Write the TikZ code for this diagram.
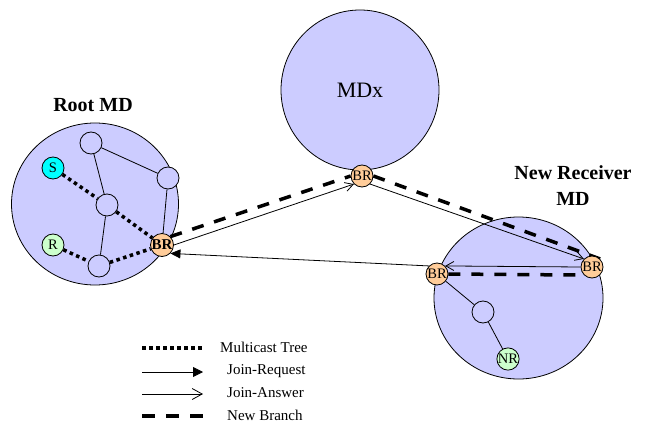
\documentclass[tikz,border=0pt]{standalone}
\usepackage{fontspec}
\setmainfont{Liberation Serif}
\usetikzlibrary{arrows.meta,shapes.geometric}
\pgfdeclarelayer{back}
\pgfdeclarelayer{mid}
\pgfsetlayers{back,mid,main}
\definecolor{mdfill}{RGB}{204,204,255}
\definecolor{sfill}{RGB}{0,255,255}
\definecolor{rfill}{RGB}{204,255,204}
\definecolor{brfill}{RGB}{255,204,153}
\tikzset{
  md/.style={ellipse, draw, fill=mdfill, line width=0.8pt, inner sep=0pt},
  sm/.style={circle, draw, fill=mdfill, minimum size=22pt, inner sep=0pt, line width=0.8pt, font=\fontsize{14.5}{15}\selectfont},
  brnode/.style={sm, fill=brfill, font=\fontsize{14.5}{15}\selectfont},
  link/.style={line width=0.8pt},
  tree/.style={line width=3.5pt, dash pattern=on 3.5pt off 3.5pt},
  req/.style={line width=0.8pt, -{Triangle[length=10pt,width=9pt]}},
  ans/.style={line width=0.8pt, -{Straight Barb[length=8pt,width=9pt]}},
  branch/.style={line width=3.5pt, dash pattern=on 12pt off 11pt},
  title/.style={font=\fontsize{20}{26}\selectfont\bfseries, inner sep=0pt},
  legtext/.style={font=\fontsize{15}{16}\selectfont, anchor=west, inner sep=0pt}
}
\begin{document}
\begin{tikzpicture}[x=1pt,y=-1pt]
\useasboundingbox (0,0) rectangle (645,425);
\begin{pgfonlayer}{back}
  \node[md, minimum width=167pt, minimum height=162pt] (root) at (95,204) {};
  \node[md, minimum width=158pt, minimum height=160pt, font=\fontsize{22}{24}\selectfont] (mdx) at (360,90) {MDx};
  \node[md, minimum width=169pt, minimum height=162pt] (nrmd) at (518.5,298) {};
\end{pgfonlayer}
% titles
\node[title, anchor=base] (roott) at (93,112) {Root MD};
\node[title, anchor=north, align=center] (nrt) at (573,165.3) {New Receiver\\MD};
% root MD nodes
\node[sm] (t1) at (91,143) {};
\node[sm] (t2) at (168,178) {};
\node[sm] (mi) at (107,205) {};
\node[sm] (bo) at (99,266) {};
\node[sm, fill=sfill] (S) at (53,168) {S};
\node[sm, fill=rfill] (R) at (53,245) {R};
\node[brnode, font=\fontsize{15}{15}\selectfont\bfseries] (rBR) at (162,245) {BR};
% MDx
\node[brnode] (mBR) at (362,176) {BR};
% new receiver MD
\node[brnode] (lBR) at (437,274) {BR};
\node[brnode] (nBR) at (592,267) {BR};
\node[sm] (in) at (483,312) {};
\node[sm, fill=rfill] (NR) at (508,359) {NR};
\begin{pgfonlayer}{mid}
  \draw[link] (t1) -- (t2);
  \draw[link] (t1) -- (mi);
  \draw[link] (mi) -- (bo);
  \draw[link] (t2) -- (rBR);
  \draw[link] (lBR) -- (in);
  \draw[link] (in) -- (NR);
  \draw[tree] (S) -- (mi);
  \draw[tree] (mi) -- (rBR);
  \draw[tree] (R) -- (bo);
  \draw[tree] (bo) -- (rBR);
  \draw[branch] (rBR.north east) -- (mBR.west);
  \draw[branch] (mBR.east) -- (nBR.north east);
  \draw[branch] (lBR.east) -- (nBR.south west);
  \draw[ans] (rBR.east) -- (mBR.south west);
  \draw[ans] (mBR.south east) -- (nBR.north west);
  \draw[ans] (nBR.west) -- (lBR.north east);
  \draw[req] (lBR.north west) -- (rBR.south east);
\end{pgfonlayer}
% legend
\coordinate (l1a) at (142,348); \coordinate (l1b) at (203,348);
\coordinate (l2a) at (142,372); \coordinate (l2b) at (203,372);
\coordinate (l3a) at (142,394); \coordinate (l3b) at (203,394);
\coordinate (l4a) at (142,416); \coordinate (l4b) at (203,416);
\draw[tree] (l1a) -- (l1b);
\draw[req, -{Triangle[length=10pt,width=10pt]}] (l2a) -- (l2b);
\draw[ans, -{Straight Barb[length=10pt,width=11pt]}] (l3a) -- (l3b);
\draw[branch, dash pattern=on 13pt off 11pt] (l4a) -- (l4b);
\node[legtext] (lt1) at (220,347) {Multicast Tree};
\node[legtext] (lt2) at (227,371) {Join-Request};
\node[legtext] (lt3) at (227,393) {Join-Answer};
\node[legtext] (lt4) at (227,415) {New Branch};
\end{tikzpicture}
\end{document}
